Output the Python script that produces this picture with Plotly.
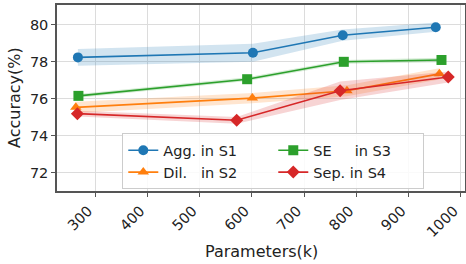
import plotly.graph_objects as go

# Data
agg_x = [267, 602, 774, 952]
agg_y = [78.22, 78.47, 79.42, 79.85]
agg_sd = [0.45, 0.48, 0.3, 0.25]

dil_x = [263, 601, 782, 959]
dil_y = [75.52, 76.02, 76.42, 77.33]
dil_sd = [0.3, 0.28, 0.3, 0.3]

se_x = [268, 591, 776, 963]
se_y = [76.14, 77.04, 77.98, 78.08]
se_sd = [0.1, 0.1, 0.1, 0.12]

sep_x = [266, 571, 769, 976]
sep_y = [75.18, 74.82, 76.42, 77.16]
sep_sd = [0.15, 0.18, 0.5, 0.3]

names = ["Agg. in S1", "Dil.\u00a0\u00a0\u00a0in S2", "SE\u00a0\u00a0\u00a0\u00a0\u00a0in S3", "Sep. in S4"]
colors = ["#1f77b4", "#ff7f0e", "#2ca02c", "#d62728"]
fills = ["rgba(31,119,180,0.2)", "rgba(255,127,14,0.2)", "rgba(44,160,44,0.2)", "rgba(214,39,40,0.2)"]
symbols = ["circle", "triangle-up", "square", "diamond"]
ranks = [1, 3, 2, 4]

series = [(agg_x, agg_y, agg_sd), (dil_x, dil_y, dil_sd), (se_x, se_y, se_sd), (sep_x, sep_y, sep_sd)]

fig = go.Figure()
for i, (xs, ys, sd) in enumerate(series):
    up = [y + s for y, s in zip(ys, sd)]
    lo = [y - s for y, s in zip(ys, sd)]
    fig.add_trace(go.Scatter(x=xs + xs[::-1], y=up + lo[::-1], fill="toself",
                             fillcolor=fills[i], line=dict(width=0), mode="lines",
                             showlegend=False, hoverinfo="skip"))
    fig.add_trace(go.Scatter(x=xs, y=ys, mode="lines+markers", name=names[i],
                             line=dict(color=colors[i], width=1.6),
                             marker=dict(symbol=symbols[i], size=10, color=colors[i]),
                             legendrank=ranks[i]))

font = "DejaVu Sans"
fig.update_layout(
    width=466, height=264,
    margin=dict(l=57, r=1, t=5, b=73),
    paper_bgcolor="white", plot_bgcolor="white",
    font=dict(family=font, size=14.5, color="#222"),
    showlegend=True,
    legend=dict(orientation="h", x=0.16, y=0.31, xanchor="left", yanchor="top",
                entrywidth=105, bgcolor="rgba(255,255,255,0.85)",
                bordercolor="#cccccc", borderwidth=1, font=dict(size=14.5),
                tracegroupgap=0, itemwidth=30),
    xaxis=dict(range=[227, 1008], tickvals=[300, 400, 500, 600, 700, 800, 900, 1000],
               tickangle=-45, showgrid=True, gridcolor="#dcdcdc", gridwidth=1,
               showline=True, linecolor="#555", linewidth=1.5, mirror=True,
               ticks="outside", ticklen=4, tickcolor="#555", zeroline=False,
               automargin=False, ticklabeloverflow="allow", ticklabelshift=-7),
    yaxis=dict(range=[71, 81.05], tickvals=[72, 74, 76, 78, 80],
               showgrid=True, gridcolor="#dcdcdc", gridwidth=1,
               showline=True, linecolor="#555", linewidth=1.5, mirror=True,
               ticks="outside", ticklen=4, tickcolor="#555", zeroline=False,
               automargin=False),
    annotations=[
        dict(text="Parameters(k)", xref="paper", yref="paper", x=0.5, y=0,
             xanchor="center", yanchor="middle", yshift=-60, showarrow=False,
             font=dict(size=16)),
        dict(text="Accuracy(%)", xref="paper", yref="paper", x=0, y=0.5,
             xanchor="center", yanchor="middle", xshift=-43, textangle=-90,
             showarrow=False, font=dict(size=16)),
    ],
)
fig.write_html("out.html", config={"displayModeBar": False},
               post_script="document.body.style.margin='0';document.body.style.overflow='hidden';")
